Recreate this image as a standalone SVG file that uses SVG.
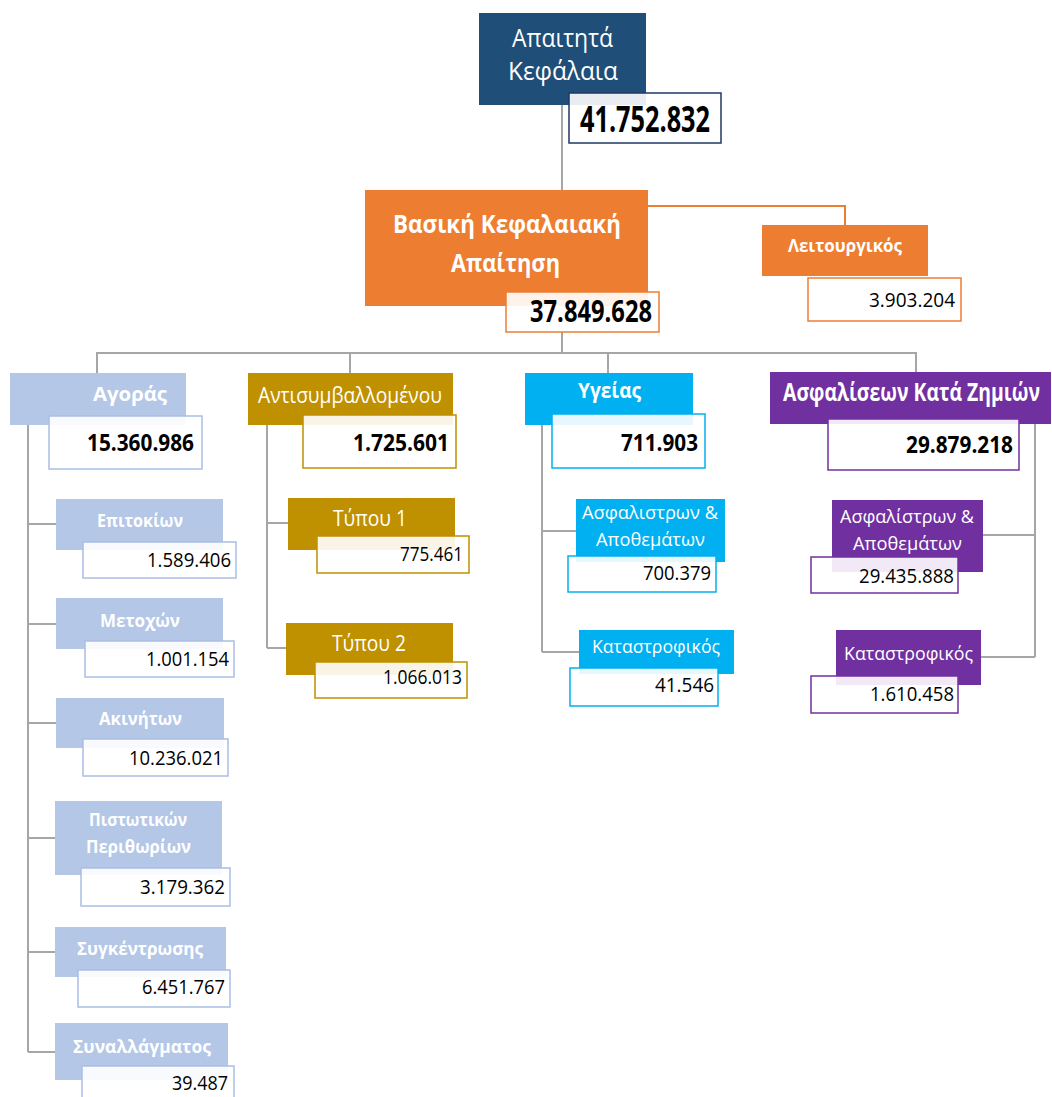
<svg xmlns="http://www.w3.org/2000/svg" width="1052" height="1097" viewBox="0 0 1052 1097">
<style>
text{font-family:"Open Sans","Noto Sans","DejaVu Sans",sans-serif}
.w{fill:#fff}
.b{font-weight:bold}
.k{fill:#000}
.num{fill:#fff;fill-opacity:0.9;stroke-width:1.5}
.con{fill:none;stroke:#A6A6A6;stroke-width:2}
.navy{fill:#1F4E79}
.org{fill:#ED7D31}
.lb{fill:#B4C7E7}
.gold{fill:#BF9000}
.cyan{fill:#00B0F0}
.pur{fill:#7030A0}
.sn{stroke:#203864}
.so{stroke:#ED7D31}
.slb{stroke:#A9BFE4}
.sg{stroke:#BF9000}
.sc{stroke:#00B0F0}
.sp{stroke:#7030A0}
.f26{font-size:26px}.f25{font-size:25px}.f24{font-size:24px}.f22{font-size:22px}.f21{font-size:21px}.f20{font-size:20px}.f19{font-size:19px}.f18{font-size:18px}.f30{font-size:30px}.f35{font-size:35px}
</style>
<g id="connectors">
<path class="con" d="M562 105V190"/>
<path d="M648 206H845V225" fill="none" stroke="#ED7D31" stroke-width="2"/>
<path class="con" d="M562 332V353M97 373V353H916V372M350 353V373M608 353V373"/>
<path class="con" d="M28 425V1052M28 524H56M28 624H56M28 723H56M28 838H55M28 952H55M28 1052H55"/>
<path class="con" d="M267 425V648M267 523H288M267 648H286"/>
<path class="con" d="M542 425V652M542 531H576M542 652H579"/>
<path class="con" d="M1035 424V657M983 535H1035M981 657H1035"/>
</g>
<g id="n-apaitita">
<rect class="navy" x="479" y="13" width="167" height="92"/>
<text class="w f26" x="512" y="47" textLength="101" lengthAdjust="spacingAndGlyphs">Απαιτητά</text>
<text class="w f26" x="508" y="80" textLength="110" lengthAdjust="spacingAndGlyphs">Κεφάλαια</text>
<rect class="num sn" x="569" y="93" width="152" height="50"/>
<text class="k b f35" x="580" y="132" textLength="130" lengthAdjust="spacingAndGlyphs">41.752.832</text>
</g>
<g id="n-vasiki">
<rect class="org" x="365" y="190" width="283" height="116"/>
<text class="w b f25" x="393" y="233" textLength="228" lengthAdjust="spacingAndGlyphs">Βασική Κεφαλαιακή</text>
<text class="w b f25" x="451" y="272" textLength="109" lengthAdjust="spacingAndGlyphs">Απαίτηση</text>
<rect class="num so" x="506" y="292" width="153" height="40"/>
<text class="k b f30" x="530" y="322" textLength="122" lengthAdjust="spacingAndGlyphs">37.849.628</text>
</g>
<g id="n-leitourgikos">
<rect class="org" x="762" y="225" width="166" height="51"/>
<text class="w b f18" x="788" y="252" textLength="114" lengthAdjust="spacingAndGlyphs">Λειτουργικός</text>
<rect class="num so" x="808" y="278" width="153" height="43"/>
<text class="k f20" x="869" y="307" textLength="86" lengthAdjust="spacingAndGlyphs">3.903.204</text>
</g>
<g id="n-agoras">
<rect class="lb" x="10" y="373" width="176" height="52"/>
<text class="w b f20" x="93" y="401" textLength="74" lengthAdjust="spacingAndGlyphs">Αγοράς</text>
<rect class="num slb" x="49" y="416" width="153" height="53"/>
<text class="k b f24" x="87" y="451" textLength="107" lengthAdjust="spacingAndGlyphs">15.360.986</text>
</g>
<g id="n-antisym">
<rect class="gold" x="248" y="373" width="205" height="52"/>
<text class="w f22" x="258" y="403" textLength="184" lengthAdjust="spacingAndGlyphs">Αντισυμβαλλομένου</text>
<rect class="num sg" x="303" y="415" width="153" height="53"/>
<text class="k b f24" x="353" y="451" textLength="96" lengthAdjust="spacingAndGlyphs">1.725.601</text>
</g>
<g id="n-ygeias">
<rect class="cyan" x="525" y="373" width="168" height="52"/>
<text class="w b f21" x="578" y="398" textLength="63" lengthAdjust="spacingAndGlyphs">Υγείας</text>
<rect class="num sc" x="552" y="414" width="153" height="54"/>
<text class="k b f24" x="621" y="451" textLength="77" lengthAdjust="spacingAndGlyphs">711.903</text>
</g>
<g id="n-akz">
<rect class="pur" x="770" y="372" width="281" height="52"/>
<text class="w b f20" transform="translate(783 401) scale(1 1.25)" x="0" y="0" textLength="257" lengthAdjust="spacingAndGlyphs">Ασφαλίσεων Κατά Ζημιών</text>
<rect class="num sp" x="828" y="419" width="191" height="51"/>
<text class="k b f24" x="906" y="453" textLength="107" lengthAdjust="spacingAndGlyphs">29.879.218</text>
</g>
<g id="n-epitokion">
<rect class="lb" x="56" y="499" width="167" height="51"/>
<text class="w b f18" x="97" y="527" textLength="86" lengthAdjust="spacingAndGlyphs">Επιτοκίων</text>
<rect class="num slb" x="83" y="542" width="153" height="36"/>
<text class="k f20" x="147" y="567" textLength="84" lengthAdjust="spacingAndGlyphs">1.589.406</text>
</g>
<g id="n-metoxon">
<rect class="lb" x="56" y="598" width="167" height="51"/>
<text class="w b f18" x="100" y="627" textLength="80" lengthAdjust="spacingAndGlyphs">Μετοχών</text>
<rect class="num slb" x="85" y="641" width="149" height="36"/>
<text class="k f20" x="146" y="666" textLength="83" lengthAdjust="spacingAndGlyphs">1.001.154</text>
</g>
<g id="n-akiniton">
<rect class="lb" x="56" y="698" width="168" height="50"/>
<text class="w b f18" x="99" y="725" textLength="83" lengthAdjust="spacingAndGlyphs">Ακινήτων</text>
<rect class="num slb" x="83" y="739" width="145" height="37"/>
<text class="k f20" x="129" y="765" textLength="94" lengthAdjust="spacingAndGlyphs">10.236.021</text>
</g>
<g id="n-pistotikon">
<rect class="lb" x="55" y="801" width="167" height="74"/>
<text class="w b f18" x="89" y="826" textLength="98" lengthAdjust="spacingAndGlyphs">Πιστωτικών</text>
<text class="w b f18" x="86" y="853" textLength="105" lengthAdjust="spacingAndGlyphs">Περιθωρίων</text>
<rect class="num slb" x="81" y="868" width="149" height="38"/>
<text class="k f20" x="140" y="894" textLength="85" lengthAdjust="spacingAndGlyphs">3.179.362</text>
</g>
<g id="n-sygkentrosis">
<rect class="lb" x="55" y="927" width="171" height="50"/>
<text class="w b f18" x="77" y="955" textLength="126" lengthAdjust="spacingAndGlyphs">Συγκέντρωσης</text>
<rect class="num slb" x="78" y="970" width="152" height="37"/>
<text class="k f20" x="142" y="994" textLength="83" lengthAdjust="spacingAndGlyphs">6.451.767</text>
</g>
<g id="n-synallagmatos">
<rect class="lb" x="55" y="1023" width="173" height="57"/>
<text class="w b f18" x="73" y="1053" textLength="138" lengthAdjust="spacingAndGlyphs">Συναλλάγματος</text>
<rect class="num slb" x="82" y="1066" width="152" height="40"/>
<text class="k f20" x="172" y="1090" textLength="56" lengthAdjust="spacingAndGlyphs">39.487</text>
</g>
<g id="n-typou1">
<rect class="gold" x="288" y="498" width="167" height="52"/>
<text class="w f22" x="333" y="526" textLength="74" lengthAdjust="spacingAndGlyphs">Τύπου 1</text>
<rect class="num sg" x="317" y="536" width="152" height="37"/>
<text class="k f20" x="400" y="561" textLength="63" lengthAdjust="spacingAndGlyphs">775.461</text>
</g>
<g id="n-typou2">
<rect class="gold" x="286" y="623" width="167" height="52"/>
<text class="w f22" x="332" y="651" textLength="74" lengthAdjust="spacingAndGlyphs">Τύπου 2</text>
<rect class="num sg" x="315" y="662" width="152" height="36"/>
<text class="k f20" x="383" y="684" textLength="79" lengthAdjust="spacingAndGlyphs">1.066.013</text>
</g>
<g id="n-ygeia-asfalistron">
<rect class="cyan" x="576" y="499" width="149" height="63"/>
<text class="w f19" x="582" y="519" textLength="136" lengthAdjust="spacingAndGlyphs">Ασφαλιστρων &amp;</text>
<text class="w f19" x="596" y="546" textLength="109" lengthAdjust="spacingAndGlyphs">Αποθεμάτων</text>
<rect class="num sc" x="568" y="556" width="148" height="36"/>
<text class="k f20" x="643" y="580" textLength="68" lengthAdjust="spacingAndGlyphs">700.379</text>
</g>
<g id="n-ygeia-katastrofikos">
<rect class="cyan" x="579" y="630" width="155" height="44"/>
<text class="w f19" x="592" y="653" textLength="128" lengthAdjust="spacingAndGlyphs">Καταστροφικός</text>
<rect class="num sc" x="570" y="668" width="148" height="38"/>
<text class="k f20" x="655" y="692" textLength="59" lengthAdjust="spacingAndGlyphs">41.546</text>
</g>
<g id="n-akz-asfalistron">
<rect class="pur" x="832" y="500" width="151" height="72"/>
<text class="w f19" x="840" y="523" textLength="134" lengthAdjust="spacingAndGlyphs">Ασφαλίστρων &amp;</text>
<text class="w f19" x="853" y="550" textLength="109" lengthAdjust="spacingAndGlyphs">Αποθεμάτων</text>
<rect class="num sp" x="811" y="557" width="147" height="36"/>
<text class="k f20" x="859" y="583" textLength="95" lengthAdjust="spacingAndGlyphs">29.435.888</text>
</g>
<g id="n-akz-katastrofikos">
<rect class="pur" x="836" y="630" width="145" height="55"/>
<text class="w f19" x="844" y="660" textLength="129" lengthAdjust="spacingAndGlyphs">Καταστροφικός</text>
<rect class="num sp" x="811" y="676" width="147" height="37"/>
<text class="k f20" x="870" y="701" textLength="84" lengthAdjust="spacingAndGlyphs">1.610.458</text>
</g>
</svg>
